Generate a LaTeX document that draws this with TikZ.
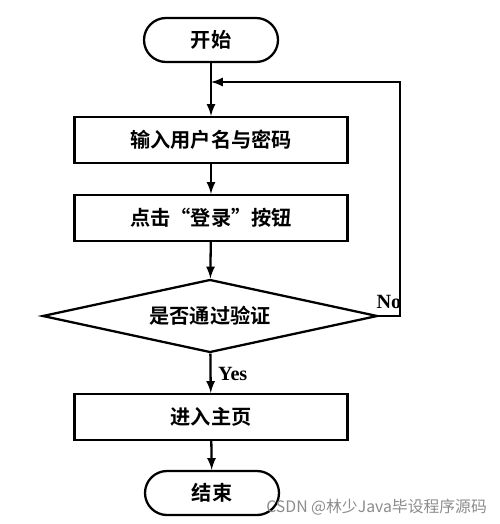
\documentclass[tikz,border=0pt]{standalone}
\usepackage{fontspec}
\newfontfamily\cjk{Noto Sans CJK SC}[BoldFont={Noto Sans CJK SC Bold}]
\setmainfont{Liberation Serif}
\usetikzlibrary{shapes.geometric}
\tikzset{every path/.style={black,line width=1.3pt}, every node/.style={inner sep=0pt, font=\cjk\bfseries\fontsize{11.5}{14}\selectfont},
  box/.style={draw, rectangle, minimum width=5.46cm, minimum height=0.92cm},
  term/.style={draw, rectangle, rounded corners=0.44cm, minimum width=2.68cm, minimum height=0.88cm},
  test/.style={draw, diamond, shape aspect=4.59, minimum width=6.7cm, minimum height=1.46cm},
  lbl/.style={font=\rmfamily\bfseries\fontsize{11.5}{14}\selectfont},
  arr/.style={-latex}}

\begin{document}
\begin{tikzpicture}
   \useasboundingbox (0,0) rectangle (10,-10.48);
    \node[term] (s) at (4.22,-0.80) {开始};
    \node[box]  (a) at (4.22,-2.80) {输入用户名与密码};
    \node[box]  (b) at (4.22,-4.36) {点击“登录”按钮};
    \node[test] (c) at (4.20,-6.32) {是否通过验证};
    \node[box]  (d) at (4.22,-8.34) {进入主页};
    \node[term] (e) at (4.24,-9.86) {结束};
    \coordinate (r) at (8.00,-1.64);
    \draw[arr] (s) -- (a);
    \draw[arr] (a) -- (b);
    \draw[arr] (b) -- (c);
    \draw[arr] (c) -- (d);
    \draw[arr] (d) -- (e);
    \draw[arr] (c.east) -| (r) -- (r -| s);
    \node[lbl, anchor=west] (y) at (4.34,-7.48) {Yes};
    \node[lbl] (n) at (7.78,-6.04) {No};
    \node[font=\cjk\fontsize{9}{11}\selectfont, text=black!45, anchor=east] (w) at (9.76,-10.14) {CSDN @林少Java毕设程序源码};
\end{tikzpicture}
\end{document}
